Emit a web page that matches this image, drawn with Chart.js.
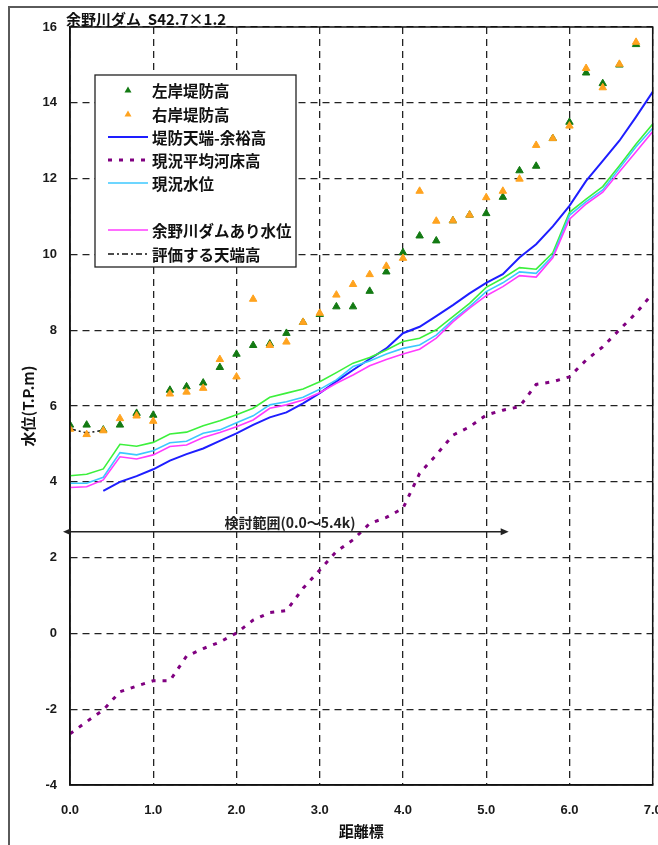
<!DOCTYPE html>
<html>
<head>
<meta charset="utf-8">
<script src="https://cdn.jsdelivr.net/npm/chart.js@4/dist/chart.umd.min.js"></script>
<style>
  html, body { margin: 0; padding: 0; background: #fff; }
  canvas { display: block; }
</style>
</head>
<body>
<canvas id="chart" width="658" height="845"></canvas>
<script>
// Distance markers (km) along the river
const distance = [0.0, 0.2, 0.4, 0.6, 0.8, 1.0, 1.2, 1.4, 1.6, 1.8,
                  2.0, 2.2, 2.4, 2.6, 2.8, 3.0, 3.2, 3.4, 3.6, 3.8,
                  4.0, 4.2, 4.4, 4.6, 4.8, 5.0, 5.2, 5.4, 5.6, 5.8,
                  6.0, 6.2, 6.4, 6.6, 6.8, 7.0];

// 左岸堤防高 (0.0 - 6.8 km)
const leftBankHeight = [5.50, 5.50, 5.37, 5.50, 5.81, 5.76, 6.42, 6.51, 6.61, 7.02,
                        7.37, 7.60, 7.64, 7.92, 8.21, 8.42, 8.62, 8.62, 9.03, 9.54,
                        10.05, 10.49, 10.36, 10.89, 11.04, 11.08, 11.51, 12.21, 12.33, 13.06,
                        13.49, 14.79, 14.51, 15.00, 15.54];

// 右岸堤防高 (0.0 - 6.8 km)
const rightBankHeight = [5.39, 5.25, 5.35, 5.67, 5.74, 5.60, 6.32, 6.37, 6.47, 7.23,
                         6.77, 8.82, 7.60, 7.69, 8.21, 8.45, 8.93, 9.21, 9.47, 9.69,
                         9.90, 11.67, 10.88, 10.89, 11.04, 11.50, 11.67, 11.99, 12.88, 13.06,
                         13.39, 14.91, 14.40, 15.02, 15.60];

// 堤防天端-余裕高
const crestMinusFreeboard = [null, null, 3.76, 4.00, 4.15, 4.33, 4.56, 4.73, 4.88, 5.08,
                             5.28, 5.50, 5.70, 5.83, 6.07, 6.34, 6.65, 6.95, 7.24, 7.52,
                             7.92, 8.09, 8.37, 8.66, 8.97, 9.25, 9.48, 9.92, 10.27, 10.74,
                             11.28, 11.94, 12.47, 13.00, 13.63, 14.29];

// 現況平均河床高
const riverbedHeight = [-2.65, -2.33, -2.02, -1.54, -1.39, -1.25, -1.25, -0.60, -0.40, -0.23,
                        0.01, 0.35, 0.55, 0.60, 1.19, 1.67, 2.16, 2.47, 2.90, 3.06,
                        3.30, 4.22, 4.71, 5.23, 5.45, 5.76, 5.89, 5.98, 6.57, 6.64,
                        6.77, 7.21, 7.56, 8.01, 8.45, 8.97];

// 現況水位
const currentWaterLevel = [3.96, 3.96, 4.12, 4.77, 4.71, 4.82, 5.03, 5.07, 5.28, 5.37,
                           5.56, 5.74, 6.03, 6.11, 6.23, 6.44, 6.69, 7.04, 7.19, 7.37,
                           7.52, 7.61, 7.87, 8.27, 8.62, 9.02, 9.25, 9.54, 9.50, 9.96,
                           11.03, 11.39, 11.70, 12.27, 12.84, 13.33];

// Unlabelled water level (green)
const otherWaterLevel = [4.16, 4.20, 4.34, 4.99, 4.94, 5.04, 5.26, 5.31, 5.48, 5.61,
                         5.77, 5.94, 6.23, 6.34, 6.45, 6.64, 6.88, 7.13, 7.28, 7.48,
                         7.70, 7.79, 8.01, 8.36, 8.71, 9.13, 9.37, 9.65, 9.61, 10.04,
                         11.11, 11.46, 11.79, 12.34, 12.91, 13.44];

// 余野川ダムあり水位
const damWaterLevel = [3.85, 3.87, 4.05, 4.66, 4.60, 4.71, 4.93, 4.97, 5.17, 5.30,
                       5.45, 5.63, 5.94, 6.03, 6.16, 6.35, 6.60, 6.82, 7.06, 7.23,
                       7.37, 7.50, 7.79, 8.22, 8.58, 8.91, 9.15, 9.44, 9.40, 9.91,
                       10.93, 11.33, 11.64, 12.18, 12.71, 13.24];

// 評価する天端高 (0.0 - 0.4 km)
const evaluatedCrest = [5.40, 5.29, 5.36];

// Axis ticks
const xTickValues = [0, 1, 2, 3, 4, 5, 6, 7];
const xTickLabels = ['0.0', '1.0', '2.0', '3.0', '4.0', '5.0', '6.0', '7.0'];
const yTickValues = [-4, -2, 0, 2, 4, 6, 8, 10, 12, 14, 16];

// Study range arrow (km) and its level
const studyRange = [-0.084, 5.27];
const studyRangeLevel = 2.68;
const studyRangeLabel = '検討範囲(0.0～5.4k)';

const chartTitle = '余野川ダム  S42.7×1.2';
const xAxisTitle = '距離標';
const yAxisTitle = '水位(T.P.m)';

const toPoints = ys => ys.map((y, i) => ({ x: distance[i], y }));

const JP = '"Noto Sans CJK JP", "Noto Sans", sans-serif';
const NUM = '"Liberation Sans", Arial, sans-serif';

const datasets = [
  { label: '右岸堤防高', data: toPoints(rightBankHeight), showLine: false,
    pointStyle: 'triangle', pointRadius: 4.3, pointHoverRadius: 4.3,
    backgroundColor: '#ffa31f', borderColor: '#ffa31f', borderWidth: 1, order: 0 },
  { label: '左岸堤防高', data: toPoints(leftBankHeight), showLine: false,
    pointStyle: 'triangle', pointRadius: 4.3, pointHoverRadius: 4.3,
    backgroundColor: '#137a13', borderColor: '#137a13', borderWidth: 1, order: 1 },
  { label: '余野川ダムあり水位', data: toPoints(damWaterLevel), borderColor: '#ff3cff',
    borderWidth: 1.6, pointRadius: 0, order: 2 },
  { label: '現況水位', data: toPoints(currentWaterLevel), borderColor: '#3cc8ff',
    borderWidth: 1.6, pointRadius: 0, order: 3 },
  { label: '', data: toPoints(otherWaterLevel), borderColor: '#3cf03c',
    borderWidth: 1.6, pointRadius: 0, order: 4 },
  { label: '堤防天端-余裕高', data: toPoints(crestMinusFreeboard), borderColor: '#1e1eff',
    borderWidth: 2, pointRadius: 0, order: 5 },
  { label: '現況平均河床高', data: toPoints(riverbedHeight), borderColor: '#800080',
    borderWidth: 3, borderDash: [4, 7], borderCapStyle: 'butt', pointRadius: 0, order: 6 },
  { label: '評価する天端高', data: toPoints(evaluatedCrest), borderColor: '#111',
    borderWidth: 1.5, borderDash: [6, 3, 2, 3], pointRadius: 0, order: 7 }
];

// Legend rows: dataset label, or null for an empty row
const legendRows = ['左岸堤防高', '右岸堤防高', '堤防天端-余裕高', '現況平均河床高',
                    '現況水位', null, '余野川ダムあり水位', '評価する天端高'];

const decorations = {
  id: 'decorations',
  afterDraw(chart) {
    const { ctx, chartArea: a, scales } = chart;
    ctx.save();

    // outer frame
    ctx.strokeStyle = '#5a5a5a';
    ctx.lineWidth = 2;
    ctx.beginPath();
    ctx.moveTo(9, 845);
    ctx.lineTo(9, 7);
    ctx.lineTo(658, 7);
    ctx.stroke();

    // plot border
    ctx.strokeStyle = '#111';
    ctx.lineWidth = 1.5;
    ctx.setLineDash([]);
    ctx.strokeRect(a.left, a.top, a.right - a.left, a.bottom - a.top);

    // title
    ctx.fillStyle = '#111';
    ctx.font = 'bold 15px ' + JP;
    ctx.textAlign = 'left';
    ctx.textBaseline = 'middle';
    ctx.fillText(chartTitle, 66, 19.5);

    // axis titles
    ctx.font = 'bold 15px ' + JP;
    ctx.textAlign = 'center';
    ctx.fillText(xAxisTitle, (a.left + a.right) / 2, 831);
    ctx.save();
    ctx.translate(28, (a.top + a.bottom) / 2);
    ctx.rotate(-Math.PI / 2);
    ctx.fillText(yAxisTitle, 0, 0);
    ctx.restore();

    // study range arrow
    const x1 = scales.x.getPixelForValue(studyRange[0]);
    const x2 = scales.x.getPixelForValue(studyRange[1]);
    const ya = scales.y.getPixelForValue(studyRangeLevel);
    ctx.strokeStyle = '#222';
    ctx.fillStyle = '#222';
    ctx.lineWidth = 1.5;
    ctx.beginPath();
    ctx.moveTo(x1 + 4, ya);
    ctx.lineTo(x2 - 4, ya);
    ctx.stroke();
    ctx.beginPath();
    ctx.moveTo(x1, ya); ctx.lineTo(x1 + 8, ya - 3.5); ctx.lineTo(x1 + 8, ya + 3.5); ctx.closePath();
    ctx.fill();
    ctx.beginPath();
    ctx.moveTo(x2, ya); ctx.lineTo(x2 - 8, ya - 3.5); ctx.lineTo(x2 - 8, ya + 3.5); ctx.closePath();
    ctx.fill();
    ctx.font = 'bold 14px ' + JP;
    ctx.textAlign = 'center';
    ctx.fillStyle = '#222';
    ctx.fillText(studyRangeLabel, 290, ya - 9);

    // legend box
    const lx = 95, ly = 75, lw = 201, lh = 192;
    ctx.fillStyle = '#fff';
    ctx.fillRect(lx, ly, lw, lh);
    ctx.strokeStyle = '#222';
    ctx.lineWidth = 1.3;
    ctx.strokeRect(lx, ly, lw, lh);
    const rowY = [90, 114, 137, 160, 183, 207, 230, 254];
    legendRows.forEach((name, i) => {
      if (!name) return;
      const ds = chart.data.datasets.find(d => d.label === name);
      const y = rowY[i];
      ctx.save();
      if (ds.showLine === false) {
        ctx.fillStyle = ds.backgroundColor;
        ctx.beginPath();
        ctx.moveTo(128, y - 3.5);
        ctx.lineTo(131.5, y + 2.5);
        ctx.lineTo(124.5, y + 2.5);
        ctx.closePath();
        ctx.fill();
      } else {
        ctx.strokeStyle = ds.borderColor;
        ctx.lineWidth = ds.borderWidth;
        ctx.setLineDash(ds.borderDash || []);
        ctx.lineCap = 'butt';
        ctx.beginPath();
        ctx.moveTo(108, y);
        ctx.lineTo(148, y);
        ctx.stroke();
      }
      ctx.restore();
      ctx.fillStyle = '#111';
      ctx.font = 'bold 15.5px ' + JP;
      ctx.textAlign = 'left';
      ctx.textBaseline = 'middle';
      ctx.fillText(name, 152, y + 1);
    });

    ctx.restore();
  }
};

new Chart(document.getElementById('chart'), {
  type: 'line',
  data: { datasets },
  options: {
    responsive: false,
    devicePixelRatio: 1,
    animation: false,
    events: [],
    layout: { autoPadding: false, padding: { top: 27, right: 5.3, left: 0, bottom: 0 } },
    plugins: { legend: { display: false }, tooltip: { enabled: false } },
    scales: {
      x: {
        type: 'linear', min: 0, max: 7,
        afterFit: s => { s.height = 60; s.paddingLeft = 0; s.paddingRight = 0; },
        afterBuildTicks: s => { s.ticks = xTickValues.map(v => ({ value: v })); },
        ticks: {
          padding: 18, color: '#1a1a1a', maxRotation: 0, autoSkip: false,
          font: { family: NUM, size: 13, weight: 'bold' },
          callback: (v) => xTickLabels[xTickValues.indexOf(v)]
        },
        grid: { color: '#222', lineWidth: 1.3, drawTicks: false },
        border: { display: true, color: '#111', width: 1.5, dash: [7, 5] }
      },
      y: {
        type: 'linear', min: -4, max: 16,
        afterFit: s => { s.width = 70; s.paddingTop = 0; s.paddingBottom = 0; },
        afterBuildTicks: s => { s.ticks = yTickValues.map(v => ({ value: v })); },
        ticks: {
          padding: 13, color: '#1a1a1a', autoSkip: false,
          font: { family: NUM, size: 13, weight: 'bold' },
          callback: v => String(v)
        },
        grid: { color: '#222', lineWidth: 1.3, drawTicks: false },
        border: { display: true, color: '#111', width: 1.5, dash: [7, 5] }
      }
    }
  },
  plugins: [decorations]
});
</script>
</body>
</html>
